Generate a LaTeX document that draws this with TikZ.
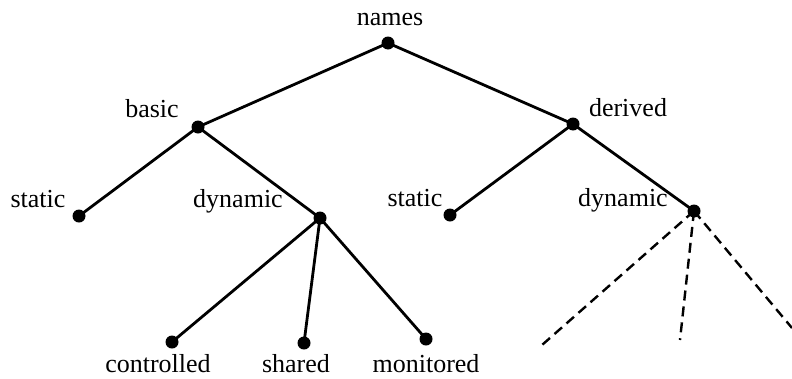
\documentclass[tikz,border=0pt]{standalone}
\usepackage{fontspec}
\setmainfont{Liberation Serif}
\tikzset{
  dot/.style={circle,fill=black,inner sep=0pt,minimum size=13pt},
  lbl/.style={anchor=base,inner sep=0pt,font=\fontsize{26}{30}\selectfont},
  edge/.style={line width=2.8pt},
  open/.style={line width=2.4pt,dash pattern=on 10pt off 6pt}
}
\begin{document}
\begin{tikzpicture}[x=1pt,y=-1pt]
  \useasboundingbox (0,0) rectangle (792,378);
  % points of the tree
  \node[dot] (names) at (388,43) {};
  \node[dot] (basic) at (198,127) {};
  \node[dot] (derived) at (573,124) {};
  \node[dot] (bstatic) at (79,216) {};
  \node[dot] (bdyn) at (320,218) {};
  \node[dot] (dstatic) at (450,215) {};
  \node[dot] (ddyn) at (694,211) {};
  \node[dot] (ctrl) at (172,342) {};
  \node[dot] (shrd) at (304,343) {};
  \node[dot] (mon) at (426,339) {};
  \coordinate (open1) at (542,345);
  \coordinate (open2) at (680,340);
  \coordinate (open3) at (792,328);

  % labels
  \node[lbl] (tnames) at (390,25) {names};
  \node[lbl] (tbasic) at (152,117) {basic};
  \node[lbl] (tderived) at (628,116) {derived};
  \node[lbl] (tbstatic) at (38,207) {static};
  \node[lbl] (tbdyn) at (238,207) {dynamic};
  \node[lbl] (tdstatic) at (415,206) {static};
  \node[lbl] (tddyn) at (623,206) {dynamic};
  \node[lbl] (tctrl) at (158,372) {controlled};
  \node[lbl] (tshrd) at (296,372) {shared};
  \node[lbl] (tmon) at (426,372) {monitored};

  % branches
  \draw[edge] (names.center) -- (basic.center);
  \draw[edge] (names.center) -- (derived.center);
  \draw[edge] (basic.center) -- (bstatic.center);
  \draw[edge] (basic.center) -- (bdyn.center);
  \draw[edge] (derived.center) -- (dstatic.center);
  \draw[edge] (derived.center) -- (ddyn.center);
  \draw[edge] (bdyn.center) -- (ctrl.center);
  \draw[edge] (bdyn.center) -- (shrd.center);
  \draw[edge] (bdyn.center) -- (mon.center);
  \draw[open] (ddyn.center) -- (open1);
  \draw[open] (ddyn.center) -- (open2);
  \draw[open] (ddyn.center) -- (open3);
\end{tikzpicture}
\end{document}
